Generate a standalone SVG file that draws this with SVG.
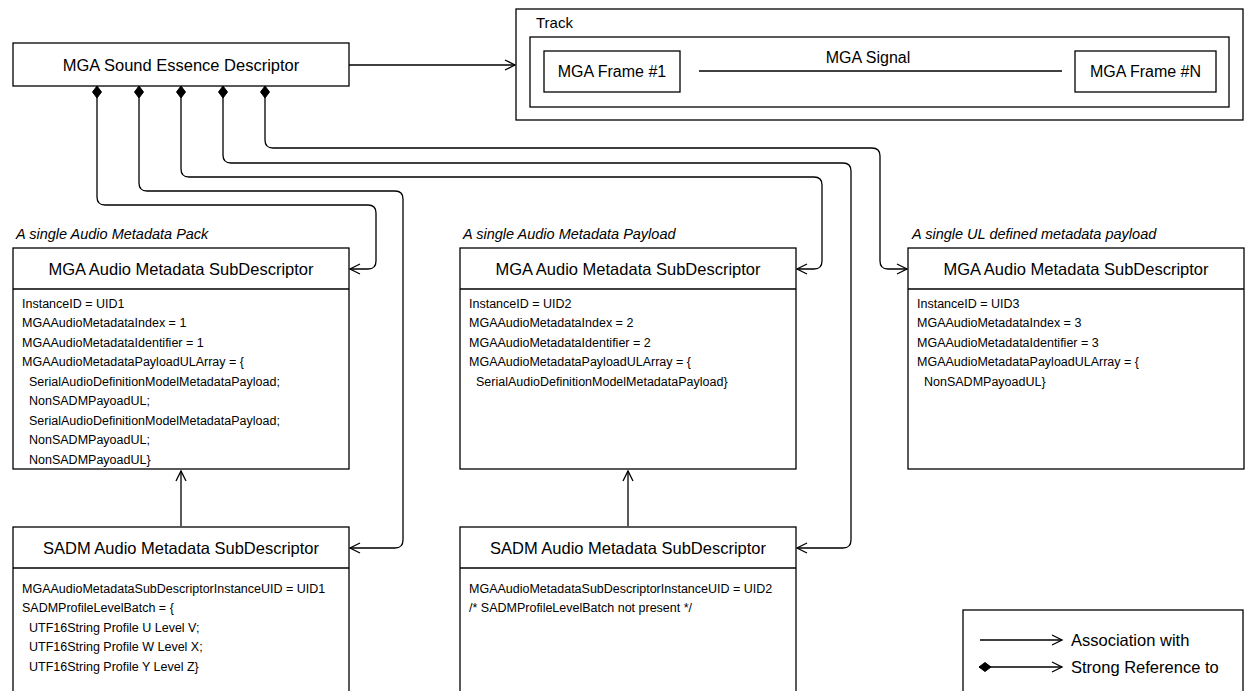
<svg xmlns="http://www.w3.org/2000/svg" width="1248" height="691" viewBox="0 0 1248 691">
<defs>
<style>
.box{fill:#fff;stroke:#000;stroke-width:1.3}
.ln{fill:none;stroke:#000;stroke-width:1.3}
.t{font-family:"Liberation Sans",Arial,sans-serif;fill:#000}
.title{font-size:16.5px;text-anchor:middle}
.body{font-size:12.5px}
.lab{font-size:14.5px;font-style:italic}
.big{font-size:16px}
.leg{font-size:16.5px}
.arr{marker-end:url(#arrow)}
.strong{marker-start:url(#diamond);marker-end:url(#arrow)}
</style>
<marker id="arrow" markerUnits="userSpaceOnUse" markerWidth="12" markerHeight="12" refX="0" refY="0" orient="auto" overflow="visible">
<path d="M-10,-5 L0,0 L-10,5" fill="none" stroke="#000" stroke-width="1.3"/>
</marker>
<marker id="diamond" markerUnits="userSpaceOnUse" markerWidth="14" markerHeight="14" refX="0" refY="0" orient="auto" overflow="visible">
<path d="M0,0 L6,-4.5 L12,0 L6,4.5 Z" fill="#000" stroke="#000" stroke-width="1"/>
</marker>
</defs>
<rect width="1248" height="691" fill="#fff"/>

<g id="connectors">
<path class="ln arr" d="M349,65 H515"/>
<path class="ln strong" d="M97,86 V197 Q97,205 105,205 H368 Q376,205 376,213 V261 Q376,269 368,269 H350"/>
<path class="ln strong" d="M139,86 V183 Q139,191 147,191 H395 Q403,191 403,199 V540 Q403,548 395,548 H350"/>
<path class="ln strong" d="M181,86 V169 Q181,177 189,177 H814 Q822,177 822,185 V261 Q822,269 814,269 H797"/>
<path class="ln strong" d="M223,86 V155 Q223,163 231,163 H843 Q851,163 851,171 V540 Q851,548 843,548 H797"/>
<path class="ln strong" d="M265,86 V140 Q265,148 273,148 H872 Q880,148 880,156 V261 Q880,269 888,269 H907"/>
<path class="ln arr" d="M181,526 V471"/>
<path class="ln arr" d="M628,526 V471"/>
</g>

<g id="sound-essence-descriptor">
<rect class="box" x="13" y="43" width="336" height="43"/>
<text class="t title" x="181" y="71">MGA Sound Essence Descriptor</text>
</g>

<g id="track">
<rect class="box" x="516" y="9" width="727" height="111"/>
<text class="t" style="font-size:15px" x="536" y="28">Track</text>
<rect class="box" x="530" y="37" width="699" height="70"/>
<text class="t big" x="868" y="63" text-anchor="middle">MGA Signal</text>
<line class="ln" x1="699" y1="71" x2="1062" y2="71"/>
</g>
<g id="frame-1">
<rect class="box" x="544" y="51" width="136" height="41"/>
<text class="t big" x="612" y="77" text-anchor="middle">MGA Frame #1</text>
</g>
<g id="frame-n">
<rect class="box" x="1075" y="51" width="141" height="41"/>
<text class="t big" x="1145.5" y="77" text-anchor="middle">MGA Frame #N</text>
</g>

<g id="mga-sub-1">
<text class="t lab" x="16" y="239">A single Audio Metadata Pack</text>
<rect class="box" x="13" y="248" width="336" height="221"/>
<line class="ln" x1="13" y1="289" x2="349" y2="289"/>
<text class="t title" x="181" y="275">MGA Audio Metadata SubDescriptor</text>
<text class="t body" x="22" y="307.5">InstanceID = UID1</text>
<text class="t body" x="22" y="327">MGAAudioMetadataIndex = 1</text>
<text class="t body" x="22" y="346.5">MGAAudioMetadataIdentifier = 1</text>
<text class="t body" x="22" y="366">MGAAudioMetadataPayloadULArray = {</text>
<text class="t body" x="29" y="385.5">SerialAudioDefinitionModelMetadataPayload;</text>
<text class="t body" x="29" y="405">NonSADMPayoadUL;</text>
<text class="t body" x="29" y="424.5">SerialAudioDefinitionModelMetadataPayload;</text>
<text class="t body" x="29" y="444">NonSADMPayoadUL;</text>
<text class="t body" x="29" y="463.5">NonSADMPayoadUL}</text>
</g>

<g id="mga-sub-2">
<text class="t lab" x="463" y="239">A single Audio Metadata Payload</text>
<rect class="box" x="460" y="248" width="336" height="221"/>
<line class="ln" x1="460" y1="289" x2="796" y2="289"/>
<text class="t title" x="628" y="275">MGA Audio Metadata SubDescriptor</text>
<text class="t body" x="469" y="307.5">InstanceID = UID2</text>
<text class="t body" x="469" y="327">MGAAudioMetadataIndex = 2</text>
<text class="t body" x="469" y="346.5">MGAAudioMetadataIdentifier = 2</text>
<text class="t body" x="469" y="366">MGAAudioMetadataPayloadULArray = {</text>
<text class="t body" x="476" y="385.5">SerialAudioDefinitionModelMetadataPayload}</text>
</g>

<g id="mga-sub-3">
<text class="t lab" x="912" y="239">A single UL defined metadata payload</text>
<rect class="box" x="908" y="248" width="336" height="221"/>
<line class="ln" x1="908" y1="289" x2="1244" y2="289"/>
<text class="t title" x="1076" y="275">MGA Audio Metadata SubDescriptor</text>
<text class="t body" x="917" y="307.5">InstanceID = UID3</text>
<text class="t body" x="917" y="327">MGAAudioMetadataIndex = 3</text>
<text class="t body" x="917" y="346.5">MGAAudioMetadataIdentifier = 3</text>
<text class="t body" x="917" y="366">MGAAudioMetadataPayloadULArray = {</text>
<text class="t body" x="924" y="385.5">NonSADMPayoadUL}</text>
</g>

<g id="sadm-sub-1">
<rect class="box" x="13" y="527" width="336" height="180"/>
<line class="ln" x1="13" y1="568" x2="349" y2="568"/>
<text class="t title" x="181" y="554">SADM Audio Metadata SubDescriptor</text>
<text class="t body" x="22" y="592.5">MGAAudioMetadataSubDescriptorInstanceUID = UID1</text>
<text class="t body" x="22" y="612">SADMProfileLevelBatch = {</text>
<text class="t body" x="29" y="631.5">UTF16String Profile U Level V;</text>
<text class="t body" x="29" y="651">UTF16String Profile W Level X;</text>
<text class="t body" x="29" y="670.5">UTF16String Profile Y Level Z}</text>
</g>

<g id="sadm-sub-2">
<rect class="box" x="460" y="527" width="336" height="180"/>
<line class="ln" x1="460" y1="568" x2="796" y2="568"/>
<text class="t title" x="628" y="554">SADM Audio Metadata SubDescriptor</text>
<text class="t body" x="469" y="592.5">MGAAudioMetadataSubDescriptorInstanceUID = UID2</text>
<text class="t body" x="469" y="612">/* SADMProfileLevelBatch not present */</text>
</g>

<g id="legend">
<rect class="box" x="963" y="610" width="280" height="100"/>
<path class="ln arr" d="M980,640 H1062"/>
<text class="t leg" x="1071" y="646">Association with</text>
<path class="ln strong" d="M979,667 H1062"/>
<text class="t leg" x="1071" y="673">Strong Reference to</text>
</g>
</svg>
